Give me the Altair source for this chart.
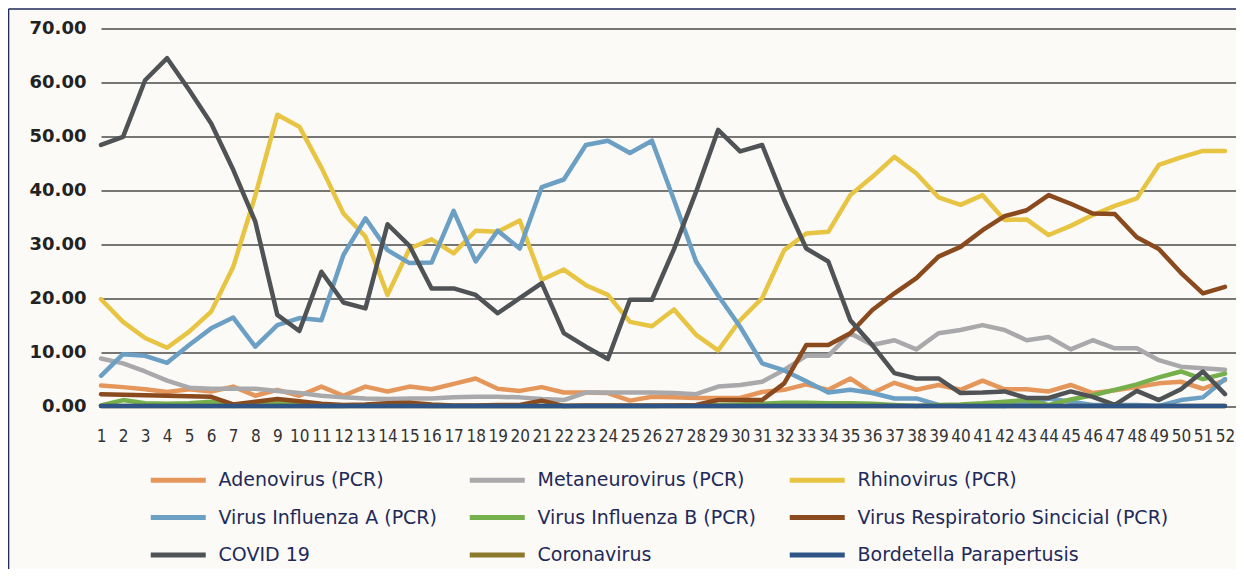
import altair as alt
import pandas as pd

weeks = list(range(1, 53))

series_names = [
    "Adenovirus (PCR)",
    "Metaneurovirus (PCR)",
    "Rhinovirus (PCR)",
    "Virus Influenza A (PCR)",
    "Virus Influenza B (PCR)",
    "Virus Respiratorio Sincicial (PCR)",
    "COVID 19",
    "Coronavirus",
    "Bordetella Parapertusis",
]

series_colors = ["#E4965B", "#A9A9AB", "#E8C443", "#6B9FC4", "#76B04D",
                 "#8A4A1E", "#505355", "#8B7A2C", "#2E5586"]

adenovirus = [3.8, 3.5, 3.1, 2.6, 3.1, 2.7, 3.6, 1.9, 3.0, 1.9,
              3.6, 1.9, 3.6, 2.7, 3.6, 3.1, 4.1, 5.1, 3.2, 2.8,
              3.5, 2.5, 2.5, 2.4, 1.0, 1.7, 1.6, 1.5, 1.5, 1.5,
              2.6, 3.0, 4.0, 3.0, 5.1, 2.4, 4.3, 3.0, 3.9, 3.0,
              4.7, 3.1, 3.1, 2.7, 3.9, 2.4, 2.9, 3.5, 4.2, 4.5,
              3.2, 4.8]
metaneurovirus = [8.8, 7.9, 6.4, 4.7, 3.4, 3.2, 3.2, 3.2, 2.8, 2.4,
                  1.9, 1.6, 1.4, 1.3, 1.4, 1.4, 1.6, 1.7, 1.7, 1.6,
                  1.3, 1.1, 2.5, 2.5, 2.5, 2.5, 2.4, 2.2, 3.6, 3.9,
                  4.5, 6.7, 9.3, 9.3, 13.5, 11.3, 12.2, 10.5, 13.5, 14.1,
                  15.0, 14.1, 12.2, 12.8, 10.5, 12.2, 10.7, 10.7, 8.5, 7.3,
                  7.0, 6.7]
rhinovirus = [19.8, 15.6, 12.6, 10.8, 13.8, 17.5, 25.8, 39.0, 54.0, 51.8,
              44.2, 35.7, 31.4, 20.6, 29.2, 30.9, 28.3, 32.5, 32.3, 34.4,
              23.4, 25.3, 22.4, 20.6, 15.6, 14.8, 17.9, 13.2, 10.3, 15.9,
              20.0, 28.9, 32.0, 32.3, 39.1, 42.5, 46.2, 43.1, 38.7, 37.3,
              39.1, 34.5, 34.6, 31.7, 33.4, 35.4, 37.1, 38.5, 44.7, 46.1,
              47.3, 47.3]
influenza_a = [5.6, 9.6, 9.3, 8.0, 11.3, 14.4, 16.4, 11.0, 15.0, 16.3,
               15.9, 28.0, 34.8, 28.9, 26.5, 26.6, 36.2, 26.8, 32.5, 29.2,
               40.6, 42.0, 48.4, 49.2, 46.9, 49.2, 38.2, 26.8, 20.5, 14.7,
               7.9, 6.6, 4.6, 2.5, 3.0, 2.4, 1.4, 1.4, 0.2, 0.0,
               0.0, 0.0, 0.4, 1.4, 0.8, 0.2, 0.2, 0.2, 0.0, 1.1,
               1.6, 5.0]
influenza_b = [0.1, 1.1, 0.5, 0.4, 0.5, 0.8, 0.0, 0.4, 0.8, 0.3,
               0.0, 0.0, 0.2, 0.3, 0.1, 0.0, 0.0, 0.0, 0.0, 0.0,
               0.0, 0.0, 0.0, 0.0, 0.0, 0.0, 0.1, 0.1, 0.2, 0.3,
               0.4, 0.6, 0.6, 0.5, 0.5, 0.4, 0.2, 0.0, 0.2, 0.3,
               0.5, 0.8, 1.1, 0.2, 1.2, 2.0, 3.0, 4.0, 5.3, 6.4,
               5.0, 6.0]
rsv = [2.2, 2.1, 2.0, 1.9, 1.8, 1.7, 0.3, 0.8, 1.3, 0.9,
       0.4, 0.2, 0.3, 0.5, 0.6, 0.3, 0.1, 0.1, 0.2, 0.2,
       1.0, 0.0, 0.1, 0.1, 0.1, 0.1, 0.1, 0.2, 1.1, 1.1,
       1.1, 4.2, 11.3, 11.3, 13.5, 17.8, 20.9, 23.7, 27.7, 29.5,
       32.6, 35.2, 36.3, 39.1, 37.5, 35.7, 35.6, 31.3, 29.1, 24.7,
       20.9, 22.1]
covid19 = [48.4, 49.9, 60.4, 64.5, 58.6, 52.4, 43.8, 34.2, 16.9, 13.9,
           24.9, 19.2, 18.1, 33.7, 29.7, 21.8, 21.8, 20.6, 17.2, 20.0,
           22.8, 13.5, 11.0, 8.7, 19.7, 19.7, 29.1, 39.7, 51.2, 47.2,
           48.4, 38.2, 29.2, 26.8, 15.9, 11.3, 6.1, 5.1, 5.1, 2.4,
           2.5, 2.7, 1.5, 1.5, 2.7, 1.7, 0.2, 2.8, 1.1, 3.1,
           6.4, 2.2]
coronavirus = [0, 0, 0, 0, 0, 0, 0, 0, 0, 0,
               0, 0, 0, 0, 0, 0, 0, 0, 0, 0,
               0, 0, 0, 0, 0, 0, 0, 0, 0, 0,
               0, 0, 0, 0, 0, 0, 0, 0, 0, 0,
               0, 0, 0, 0, 0, 0, 0, 0, 0, 0,
               0, 0]
bordetella = [0, 0, 0, 0, 0, 0, 0, 0, 0, 0,
              0, 0, 0, 0, 0, 0, 0, 0, 0, 0,
              0, 0, 0, 0, 0, 0, 0, 0, 0, 0,
              0, 0, 0, 0, 0, 0, 0, 0, 0, 0,
              0, 0, 0, 0, 0, 0, 0, 0, 0, 0,
              0, 0]

y_ticks = [0, 10, 20, 30, 40, 50, 60, 70]

all_values = [adenovirus, metaneurovirus, rhinovirus, influenza_a, influenza_b,
              rsv, covid19, coronavirus, bordetella]

rows = []
for idx, (name, vals) in enumerate(zip(series_names, all_values)):
    for w, v in zip(weeks, vals):
        rows.append({"serie": name, "semana": w, "valor": v, "orden": idx})
df = pd.DataFrame(rows)

# layout (page px): plot left 101, top 28.5, bottom 406
PAD_L = 93
PAD_T = 20.5
PLOT_W = 1135
PLOT_H = 377.5
TOTAL_H = 561

lines = alt.Chart(df).mark_line(strokeWidth=4.5, strokeJoin="round", strokeCap="round").encode(
    x=alt.X("semana:Q",
            scale=alt.Scale(domain=[1, 52.5], nice=False, zero=False),
            axis=alt.Axis(values=weeks, title=None, grid=False, domain=False, ticks=False,
                          labelOverlap=False, labelFlush=False,
                          labelFont="Liberation Sans Narrow, DejaVu Sans Condensed, sans-serif",
                          labelFontSize=17, labelColor="#333333", labelPadding=22)),
    y=alt.Y("valor:Q",
            scale=alt.Scale(domain=[0, 70], nice=False),
            axis=alt.Axis(values=y_ticks, format=".2f", title=None, grid=True,
                          gridColor="#4a4a4a", gridWidth=1.3, domain=False, ticks=False,
                          labelFont="DejaVu Sans", labelFontWeight="bold",
                          labelFontSize=18, labelColor="#222222", labelPadding=15)),
    color=alt.Color("serie:N",
                    scale=alt.Scale(domain=series_names, range=series_colors),
                    sort=series_names,
                    legend=alt.Legend(orient="none", legendX=47, legendY=435, columns=3,
                                      direction="horizontal",
                                      title=None, symbolType="M-1,0H3", symbolSize=756,
                                      symbolStrokeWidth=5, labelFont="DejaVu Sans",
                                      labelFontSize=19, labelColor="#1F2A5A",
                                      labelOffset=37.5, columnPadding=22, rowPadding=10.5,
                                      labelLimit=400)),
    order=alt.Order("semana:Q"),
    detail="orden:N",
)

frame_data = alt.Data(values=[{"k": 1}])
frame_left = alt.Chart(frame_data).mark_rule(color="#1F2B5B", strokeWidth=1.6).encode(
    x=alt.value(-92.5), y=alt.value(-19.5), y2=alt.value(TOTAL_H - PAD_T + 10))
frame_top = alt.Chart(frame_data).mark_rule(color="#1F2B5B", strokeWidth=1.6).encode(
    x=alt.value(-92.5), x2=alt.value(PLOT_W + 20), y=alt.value(-19.5))

chart = alt.layer(lines, frame_left, frame_top).properties(
    width=PLOT_W, height=PLOT_H,
    autosize=alt.AutoSizeParams(type="none"),
    padding={"left": PAD_L, "top": PAD_T, "right": 0, "bottom": TOTAL_H - PAD_T - PLOT_H},
    background="#FBFAF7",
).configure_view(stroke=None)

chart.save("out.html", embed_options={"renderer": "svg", "actions": False})
